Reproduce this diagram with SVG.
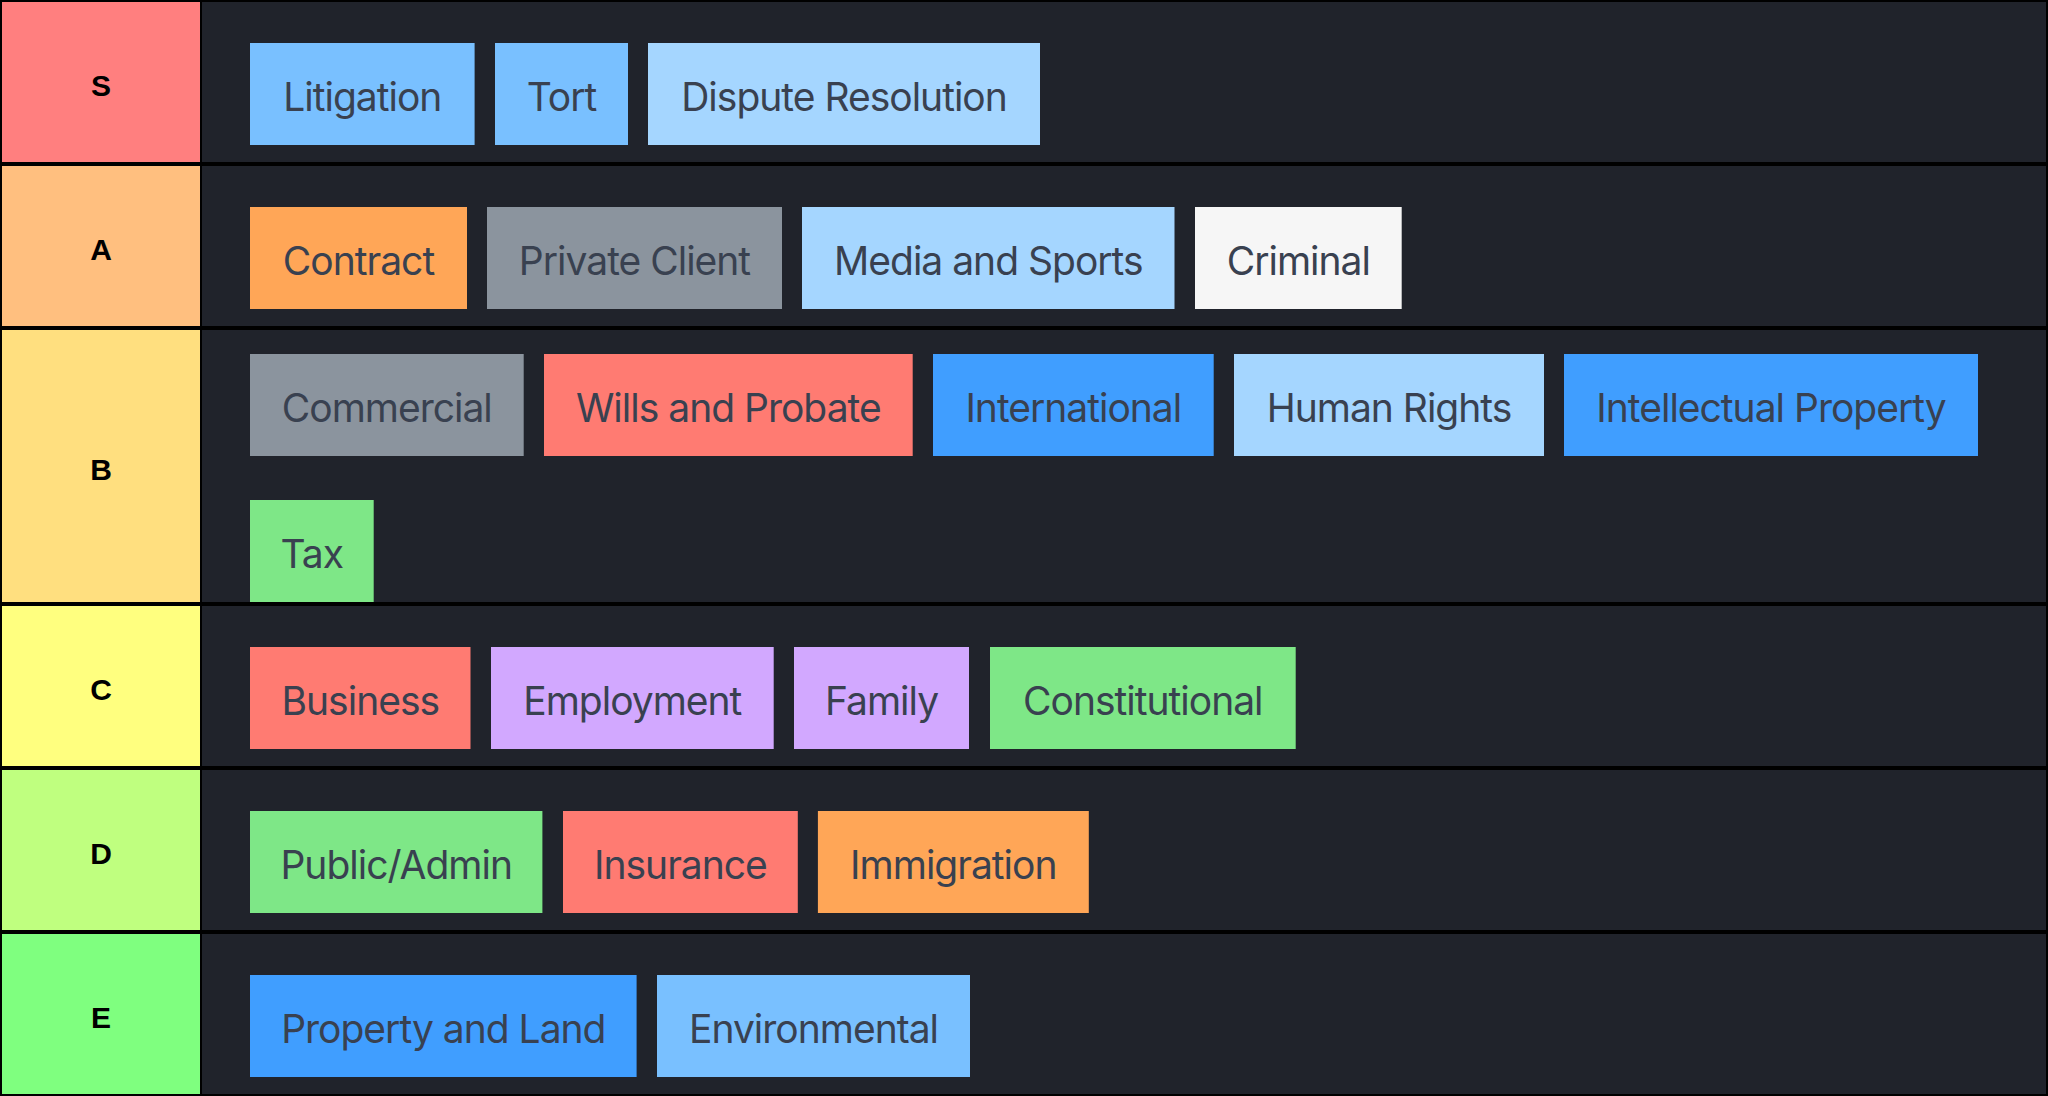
<svg xmlns="http://www.w3.org/2000/svg" width="2048" height="1096" viewBox="0 0 2048 1096">
<style>
.tl{font-family:"Liberation Sans",Arial,sans-serif;font-weight:bold;font-size:30px;fill:#000;text-anchor:middle}
.it{font-family:Inter,"Noto Sans",sans-serif;font-size:39px;letter-spacing:-1px;fill:#394150;text-anchor:middle}
.bg{fill:#20232B}
.c1{fill:#79C0FF}.c2{fill:#A5D6FF}.c3{fill:#FFA657}.c4{fill:#8B949E}.c5{fill:#F6F6F6}.c6{fill:#FF7B72}.c7{fill:#409EFF}.c8{fill:#7EE787}.c9{fill:#D2A8FF}
</style>
<rect x="0" y="0" width="2048" height="1096" fill="#000"/>
<g id="tier-S">
<rect x="2" y="2" width="198" height="160" fill="#FF7F7F"/><text class="tl" x="101" y="96">S</text>
<rect class="bg" x="202" y="2" width="1844" height="160"/>
</g>
<g id="tier-A">
<rect x="2" y="166" width="198" height="160" fill="#FFBF7F"/><text class="tl" x="101" y="260">A</text>
<rect class="bg" x="202" y="166" width="1844" height="160"/>
</g>
<g id="tier-B">
<rect x="2" y="330" width="198" height="272" fill="#FFDF7F"/><text class="tl" x="101" y="480">B</text>
<rect class="bg" x="202" y="330" width="1844" height="272"/>
</g>
<g id="tier-C">
<rect x="2" y="606" width="198" height="160" fill="#FFFF7F"/><text class="tl" x="101" y="700">C</text>
<rect class="bg" x="202" y="606" width="1844" height="160"/>
</g>
<g id="tier-D">
<rect x="2" y="770" width="198" height="160" fill="#BFFF7F"/><text class="tl" x="101" y="864">D</text>
<rect class="bg" x="202" y="770" width="1844" height="160"/>
</g>
<g id="tier-E">
<rect x="2" y="934" width="198" height="160" fill="#7FFF7F"/><text class="tl" x="101" y="1028">E</text>
<rect class="bg" x="202" y="934" width="1844" height="160"/>
</g>
<g id="item-litigation"><rect class="c1" x="250" y="43" width="224.6" height="102"/><text class="it" x="362.3" y="111">Litigation</text></g>
<g id="item-tort"><rect class="c1" x="495" y="43" width="133" height="102"/><text class="it" x="561.5" y="111">Tort</text></g>
<g id="item-dispute"><rect class="c2" x="648" y="43" width="392" height="102"/><text class="it" x="844" y="111">Dispute Resolution</text></g>
<g id="item-contract"><rect class="c3" x="250" y="207" width="217" height="102"/><text class="it" x="358.5" y="275">Contract</text></g>
<g id="item-private"><rect class="c4" x="487" y="207" width="295" height="102"/><text class="it" x="634.5" y="275">Private Client</text></g>
<g id="item-media"><rect class="c2" x="802" y="207" width="372.5" height="102"/><text class="it" x="988.3" y="275">Media and Sports</text></g>
<g id="item-criminal"><rect class="c5" x="1195" y="207" width="206.7" height="102"/><text class="it" x="1298.3" y="275">Criminal</text></g>
<g id="item-commercial"><rect class="c4" x="250" y="354" width="273.7" height="102"/><text class="it" x="386.8" y="422">Commercial</text></g>
<g id="item-wills"><rect class="c6" x="544" y="354" width="368.7" height="102"/><text class="it" x="728.3" y="422">Wills and Probate</text></g>
<g id="item-international"><rect class="c7" x="933" y="354" width="280.7" height="102"/><text class="it" x="1073.3" y="422">International</text></g>
<g id="item-human"><rect class="c2" x="1234" y="354" width="310" height="102"/><text class="it" x="1389" y="422">Human Rights</text></g>
<g id="item-ip"><rect class="c7" x="1564" y="354" width="414" height="102"/><text class="it" x="1771" y="422">Intellectual Property</text></g>
<g id="item-tax"><rect class="c8" x="250" y="500" width="123.7" height="102"/><text class="it" x="311.8" y="568">Tax</text></g>
<g id="item-business"><rect class="c6" x="250" y="647" width="220.5" height="102"/><text class="it" x="360.3" y="715">Business</text></g>
<g id="item-employment"><rect class="c9" x="491" y="647" width="282.7" height="102"/><text class="it" x="632.3" y="715">Employment</text></g>
<g id="item-family"><rect class="c9" x="794" y="647" width="175" height="102"/><text class="it" x="881.5" y="715">Family</text></g>
<g id="item-constitutional"><rect class="c8" x="990" y="647" width="305.7" height="102"/><text class="it" x="1142.8" y="715">Constitutional</text></g>
<g id="item-public"><rect class="c8" x="250" y="811" width="292.4" height="102"/><text class="it" x="396.2" y="879">Public/Admin</text></g>
<g id="item-insurance"><rect class="c6" x="563" y="811" width="234.8" height="102"/><text class="it" x="680.4" y="879">Insurance</text></g>
<g id="item-immigration"><rect class="c3" x="817.9" y="811" width="270.9" height="102"/><text class="it" x="953.3" y="879">Immigration</text></g>
<g id="item-property"><rect class="c7" x="250" y="975" width="386.6" height="102"/><text class="it" x="443.3" y="1043">Property and Land</text></g>
<g id="item-environmental"><rect class="c1" x="657" y="975" width="313" height="102"/><text class="it" x="813.5" y="1043">Environmental</text></g>
<g id="connectors"/>
</svg>
